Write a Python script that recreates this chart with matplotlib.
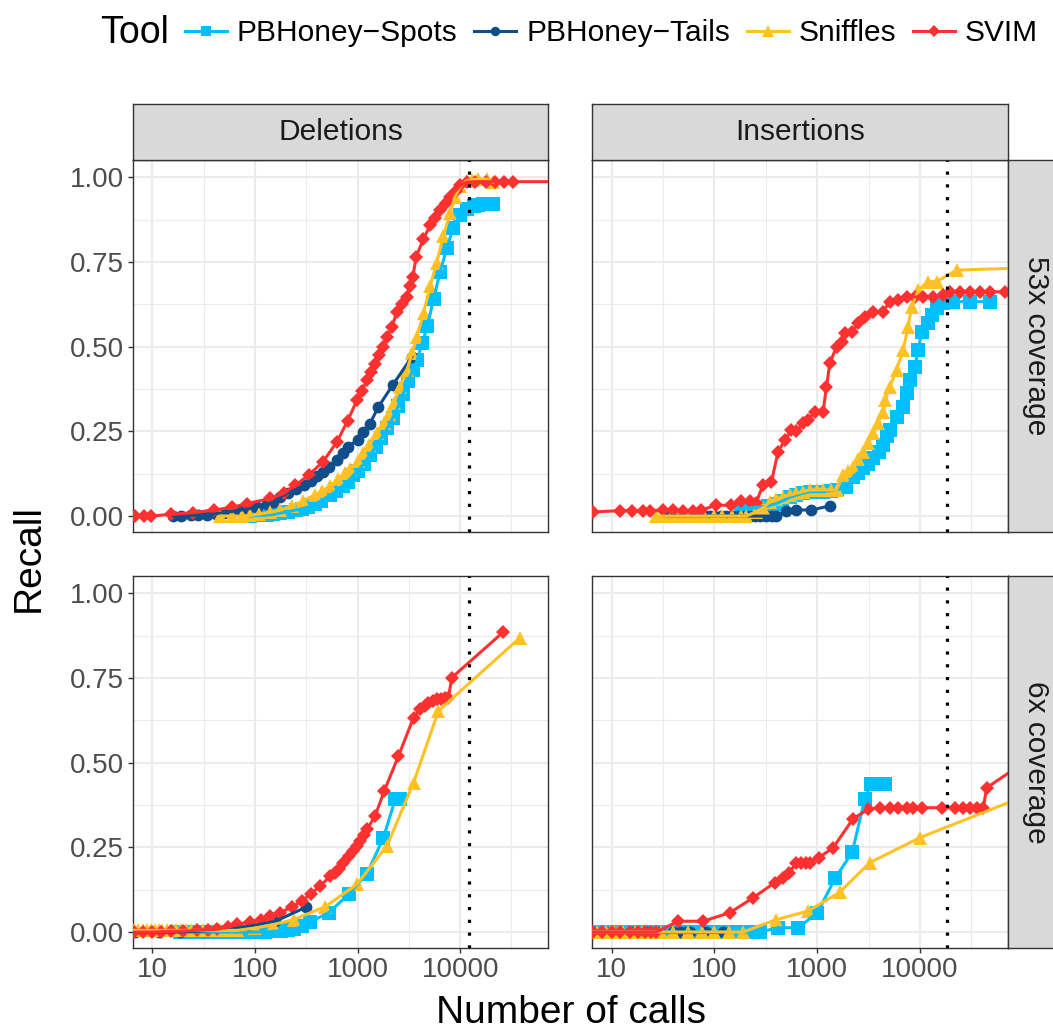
import matplotlib
matplotlib.use("Agg")
import matplotlib.pyplot as plt
from matplotlib.lines import Line2D
import numpy as np

plt.rcParams['font.family'] = ['Liberation Sans', 'DejaVu Sans']

tools = ["PBHoney\u2212Spots", "PBHoney\u2212Tails", "Sniffles", "SVIM"]
colors = ["#00BFFF", "#104E8B", "#FFC125", "#FF3030"]
markers = ["s", "o", "^", "D"]
msizes = [9.5, 8.5, 10, 7.5]

svtypes = ["Deletions", "Insertions"]
coverages = ["53x coverage", "6x coverage"]
truth_calls = [12200, 18300]

# Deletions, 53x coverage
del53_spots_calls = [90, 110, 130, 150, 176, 210, 250, 290, 325, 380, 440, 540,
                     620, 720, 800, 910, 1000, 1150, 1320, 1500, 1700, 1950, 2200,
                     2500, 2770, 3100, 3450, 3800, 4250, 4780, 5500, 6370, 7400,
                     8530, 10000, 11590, 13500, 15000, 16700, 18500, 20900]
del53_spots_recall = [0.0, 0.002, 0.003, 0.005, 0.009, 0.013, 0.018, 0.022, 0.026,
                      0.035, 0.045, 0.062, 0.074, 0.09, 0.102, 0.12, 0.132, 0.155,
                      0.18, 0.205, 0.23, 0.26, 0.29, 0.325, 0.36, 0.4, 0.43, 0.46,
                      0.51, 0.56, 0.64, 0.72, 0.79, 0.85, 0.89, 0.905, 0.915, 0.918,
                      0.922, 0.922, 0.92]
del53_tails_calls = [16, 19, 23.5, 28, 34, 42, 50, 57, 70, 85, 105, 130, 150, 177,
                     210, 250, 297, 350, 400, 462, 530, 630, 720, 800, 1000, 1130,
                     1320, 1590, 2200, 3380]
del53_tails_recall = [0.0, 0.001, 0.002, 0.003, 0.004, 0.007, 0.01, 0.013, 0.017,
                      0.021, 0.027, 0.035, 0.041, 0.057, 0.068, 0.079, 0.091, 0.105,
                      0.117, 0.131, 0.146, 0.165, 0.185, 0.204, 0.224, 0.249, 0.273,
                      0.322, 0.387, 0.47]
del53_sniffles_calls = [46, 60, 75, 90, 110, 140, 176, 230, 295, 380, 450, 540, 650,
                        750, 847, 1000, 1137, 1300, 1550, 1800, 2000, 2240, 2600,
                        3019, 3400, 3800, 4390, 5095, 5900, 6840, 7975, 8920, 10000,
                        11590, 13000, 15000, 18200, 20900]
del53_sniffles_recall = [0.0, 0.0, 0.0, 0.002, 0.006, 0.011, 0.018, 0.03, 0.045,
                         0.062, 0.073, 0.09, 0.11, 0.126, 0.14, 0.162, 0.185, 0.21,
                         0.244, 0.275, 0.3, 0.333, 0.38, 0.431, 0.48, 0.53, 0.6,
                         0.679, 0.748, 0.826, 0.895, 0.943, 0.973, 0.99, 0.993,
                         0.995, 0.995, 0.985]
del53_svim_calls = [6.8, 8.2, 9.6, 15, 25, 40, 60, 84, 141, 190, 247, 333, 459, 628,
                    798, 985, 1100, 1233, 1350, 1484, 1630, 1787, 1950, 2157, 2412,
                    2700, 3019, 3250, 3452, 3722, 4385, 5095, 5700, 6371, 7200,
                    7975, 9000, 9980, 11590, 14000, 18000, 22000, 27000, 33000,
                    100000]
del53_svim_recall = [0.0, 0.0, 0.0, 0.005, 0.01, 0.018, 0.026, 0.037, 0.052, 0.067,
                     0.091, 0.121, 0.16, 0.219, 0.281, 0.342, 0.37, 0.401, 0.425,
                     0.45, 0.475, 0.5, 0.53, 0.558, 0.603, 0.625, 0.647, 0.68,
                     0.706, 0.765, 0.819, 0.858, 0.88, 0.903, 0.925, 0.942, 0.96,
                     0.976, 0.986, 0.987, 0.987, 0.987, 0.987, 0.987, 0.987]

# Insertions, 53x coverage
ins53_spots_calls = [180, 238, 280, 330, 402, 460, 540, 629, 720, 847, 1000, 1142,
                     1350, 1542, 1928, 2240, 2500, 2800, 3150, 3500, 3950, 4385,
                     4740, 5097, 5910, 6860, 7398, 7980, 8920, 9620, 10400, 12030,
                     13000, 14500, 16830, 21000, 30600, 47900]
ins53_spots_recall = [0.02, 0.025, 0.027, 0.03, 0.037, 0.045, 0.055, 0.062, 0.067,
                      0.072, 0.072, 0.072, 0.075, 0.077, 0.086, 0.116, 0.128, 0.141,
                      0.155, 0.17, 0.19, 0.21, 0.235, 0.254, 0.293, 0.323, 0.362,
                      0.402, 0.441, 0.49, 0.544, 0.569, 0.593, 0.613, 0.628, 0.633,
                      0.633, 0.633]
ins53_tails_calls = [34, 38, 42, 47, 52, 58, 65, 72, 80, 90, 100, 115, 130, 150, 170,
                     195, 220, 250, 280, 320, 360, 402, 502, 629, 880, 1327]
ins53_tails_recall = [0.0] * 22 + [0.015, 0.018, 0.018, 0.03]
ins53_sniffles_calls = [27.2, 32, 38, 45, 55, 65, 80, 100, 120, 150, 180, 205, 256,
                        300, 345, 400, 465, 540, 629, 720, 847, 1000, 1142, 1350,
                        1542, 1787, 2000, 2240, 2500, 2800, 3150, 3500, 3900, 4385,
                        4600, 5097, 5910, 6860, 7670, 8280, 9620, 12030, 14500,
                        22700, 150000]
ins53_sniffles_recall = [0.0] * 12 + [0.013, 0.025, 0.042, 0.05, 0.057, 0.062, 0.067,
                                      0.072, 0.077, 0.077, 0.077, 0.077, 0.077,
                                      0.121, 0.133, 0.146, 0.168, 0.19, 0.215,
                                      0.244, 0.275, 0.308, 0.342, 0.382, 0.431,
                                      0.49, 0.559, 0.618, 0.667, 0.692, 0.692,
                                      0.726, 0.734]
ins53_svim_calls = [4, 6.6, 12, 15.9, 20.2, 23.5, 31.6, 39.6, 49.5, 61.9, 74.6, 104,
                    146, 183, 221, 256, 297, 359, 417, 484, 562, 629, 729, 815, 948,
                    1142, 1232, 1327, 1542, 1725, 1858, 2158, 2503, 2911, 3503, 4325,
                    5097, 6137, 7398, 8920, 10740, 13450, 16830, 19540, 24450, 30600,
                    38300, 47900, 67000, 100000]
ins53_svim_recall = [0.01, 0.012, 0.016, 0.016, 0.016, 0.016, 0.018, 0.018, 0.016,
                     0.016, 0.018, 0.032, 0.032, 0.045, 0.045, 0.04, 0.092, 0.101,
                     0.19, 0.224, 0.254, 0.25, 0.274, 0.283, 0.308, 0.308, 0.382,
                     0.451, 0.5, 0.515, 0.539, 0.544, 0.569, 0.589, 0.603, 0.603,
                     0.633, 0.638, 0.647, 0.647, 0.647, 0.647, 0.652, 0.662, 0.662,
                     0.662, 0.662, 0.662, 0.662, 0.662]

# Deletions, 6x coverage
del6_spots_calls = [18.7, 22, 26, 31, 37, 44, 52, 62, 75, 90, 105, 125, 150, 180,
                    210, 238, 290, 345, 521, 815, 1232, 1787, 2323, 2561]
del6_spots_recall = [0.0] * 12 + [0.002, 0.004, 0.006, 0.008, 0.018, 0.03, 0.057,
                                  0.111, 0.172, 0.279, 0.392, 0.394]
del6_tails_calls = [6.8, 11.5, 18.7, 31.6, 55.3, 90, 158, 316]
del6_tails_recall = [0.0, 0.0, 0.0, 0.003, 0.008, 0.018, 0.032, 0.074]
del6_sniffles_calls = [6.6, 7.3, 8, 8.8, 9.6, 10.5, 11.5, 12.5, 14, 15.5, 17, 19, 21,
                       24, 27, 31, 35, 40, 46, 53, 60, 67, 100, 150, 238, 483, 984,
                       1928, 3510, 6137, 38300]
del6_sniffles_recall = [0.005] * 22 + [0.012, 0.022, 0.037, 0.075, 0.141, 0.254,
                                       0.441, 0.653, 0.869]
del6_svim_calls = [6.6, 8, 10, 12, 15, 20, 27, 35, 42.7, 55, 66.8, 90, 113, 140, 176,
                   230, 287, 350, 432, 540, 600, 652, 720, 815, 900, 984, 1060, 1150,
                   1232, 1484, 1815, 2503, 3510, 4074, 4500, 4900, 5400, 5910, 6500,
                   7130, 7680, 8280, 26400]
del6_svim_recall = [0.0, 0.0, 0.0, 0.001, 0.002, 0.003, 0.005, 0.007, 0.008, 0.015,
                    0.023, 0.03, 0.037, 0.046, 0.057, 0.075, 0.092, 0.113, 0.136,
                    0.165, 0.175, 0.185, 0.205, 0.224, 0.24, 0.254, 0.269, 0.287,
                    0.303, 0.343, 0.416, 0.52, 0.633, 0.658, 0.668, 0.677, 0.683,
                    0.687, 0.689, 0.69, 0.692, 0.751, 0.886]

# Insertions, 6x coverage
ins6_spots_calls = [6.6, 8, 10, 12, 15, 18, 22, 27, 33, 40, 50, 60, 75, 90, 110, 140,
                    170, 210, 276, 417, 652, 1007, 1507, 2190, 2911, 3330, 4550]
ins6_spots_recall = [0.0] * 19 + [0.013, 0.013, 0.057, 0.161, 0.235, 0.394, 0.438,
                                  0.438]
ins6_tails_calls = [6.6, 9.6, 12, 16.1, 21.8, 29.3, 39.5, 45.9, 53.4, 57.5, 83.6, 121]
ins6_tails_recall = [0.0] * 12
ins6_sniffles_calls = [6.6, 7.3, 8, 8.8, 9.6, 10.5, 11.5, 13, 15, 17, 20, 25, 30, 40,
                       55, 75, 100, 140, 190, 402, 815, 1660, 3250, 10000, 200000]
ins6_sniffles_recall = [0.0] * 19 + [0.037, 0.062, 0.118, 0.205, 0.279, 0.435]
ins6_svim_calls = [4, 6.6, 8, 10, 12, 15, 18, 21, 24, 27.2, 44.3, 77.5, 141, 238,
                   386, 466, 532, 629, 700, 780, 847, 1045, 1430, 2240, 3130, 4074,
                   5097, 6137, 7398, 8590, 10380, 16220, 21870, 26370, 30640, 35570,
                   41300, 44530, 100000]
ins6_svim_recall = [0.0] * 10 + [0.032, 0.032, 0.057, 0.101, 0.146, 0.16, 0.175,
                                 0.205, 0.205, 0.205, 0.205, 0.22, 0.249, 0.335,
                                 0.362, 0.367, 0.367, 0.367, 0.367, 0.367, 0.367,
                                 0.367, 0.367, 0.367, 0.367, 0.367, 0.367, 0.426,
                                 0.498]

panels = {
    (0, 0): [(del53_spots_calls, del53_spots_recall),
             (del53_tails_calls, del53_tails_recall),
             (del53_sniffles_calls, del53_sniffles_recall),
             (del53_svim_calls, del53_svim_recall)],
    (0, 1): [(ins53_spots_calls, ins53_spots_recall),
             (ins53_tails_calls, ins53_tails_recall),
             (ins53_sniffles_calls, ins53_sniffles_recall),
             (ins53_svim_calls, ins53_svim_recall)],
    (1, 0): [(del6_spots_calls, del6_spots_recall),
             (del6_tails_calls, del6_tails_recall),
             (del6_sniffles_calls, del6_sniffles_recall),
             (del6_svim_calls, del6_svim_recall)],
    (1, 1): [(ins6_spots_calls, ins6_spots_recall),
             (ins6_tails_calls, ins6_tails_recall),
             (ins6_sniffles_calls, ins6_sniffles_recall),
             (ins6_svim_calls, ins6_svim_recall)],
}

W, H = 1053, 1032
fig = plt.figure(figsize=(W / 100, H / 100), dpi=100)

col_x = [(133, 548), (592, 1008)]
row_y = [(160, 532), (576, 948)]
border = "#333333"
grid_col = "#EBEBEB"
tick_size = 20
strip_size = 21.5


def strip_axes(rect, label, rotation):
    sax = fig.add_axes(rect)
    sax.set_facecolor("#D9D9D9")
    sax.set_xticks([])
    sax.set_yticks([])
    for sp in sax.spines.values():
        sp.set_color(border)
        sp.set_linewidth(1.0)
    sax.text(0.5, 0.5, label, ha="center", va="center", rotation=rotation,
             fontsize=strip_size, color="#1A1A1A", transform=sax.transAxes)
    return sax


for (r, c), series in panels.items():
    x0, x1 = col_x[c]
    y0, y1 = row_y[r]
    ax = fig.add_axes([x0 / W, 1 - y1 / H, (x1 - x0) / W, (y1 - y0) / H])
    ax.set_xscale("log")
    ax.set_xlim(10 ** 0.81, 10 ** 4.856)
    ax.set_ylim(-0.047, 1.051)

    ax.set_xticks([10, 100, 1000, 10000], labels=["10", "100", "1000", "10000"])
    ax.set_xticks([10 ** 1.5, 10 ** 2.5, 10 ** 3.5, 10 ** 4.5], minor=True)
    ax.set_yticks([0, 0.25, 0.5, 0.75, 1.0],
                  labels=["0.00", "0.25", "0.50", "0.75", "1.00"])
    ax.set_yticks([0.125, 0.375, 0.625, 0.875], minor=True)
    ax.grid(True, which="major", color=grid_col, lw=1.5, zorder=0)
    ax.grid(True, which="minor", color=grid_col, lw=0.75, zorder=0)
    ax.set_axisbelow(True)
    ax.tick_params(which="major", length=3.8, width=1.0, color=border,
                   labelsize=tick_size, labelcolor="#4D4D4D", pad=3)
    ax.tick_params(which="minor", length=0)
    if r == 0:
        ax.tick_params(axis="x", labelbottom=False, length=0)
    if c == 1:
        ax.tick_params(axis="y", labelleft=False, length=0)
    for sp in ax.spines.values():
        sp.set_color(border)
        sp.set_linewidth(1.0)

    # points first, then the connecting lines on top
    for i, (xs, ys) in enumerate(series):
        ax.plot(xs, ys, linestyle="none", marker=markers[i], ms=msizes[i],
                color=colors[i], markeredgewidth=0, zorder=3)
    for i, (xs, ys) in enumerate(series):
        ax.plot(xs, ys, color=colors[i], lw=2.2, zorder=4)

    ax.axvline(truth_calls[c], color="black", lw=2.3, linestyle=(0, (1, 3)),
               zorder=5)

    # facet strips
    if r == 0:
        strip_axes([x0 / W, 1 - y0 / H, (x1 - x0) / W, 56 / H], svtypes[c], 0)
    if c == 1:
        strip_axes([1008 / W, 1 - y1 / H, 56 / W, (y1 - y0) / H], coverages[r], -90)

fig.text(29 / W, 1 - 558 / H, "Recall", rotation=90, ha="center", va="center",
         fontsize=28)
fig.text(571 / W, 1 - 1013 / H, "Number of calls", ha="center", va="center",
         fontsize=28)

handles = [Line2D([], [], color=colors[i], lw=2.2, marker=markers[i],
                  ms=msizes[i] * 0.8, markeredgewidth=0) for i in range(4)]
fig.text(100 / W, 1 - 33 / H, "Tool", ha="left", va="center", fontsize=27)
fig.legend(handles, tools, loc="center left", bbox_to_anchor=(185 / W, 1 - 33 / H),
           ncol=4, frameon=False, fontsize=21.5, handlelength=1.4,
           handletextpad=0.33, columnspacing=0.57, borderpad=0, borderaxespad=0)

fig.savefig("out.png", dpi=100)
